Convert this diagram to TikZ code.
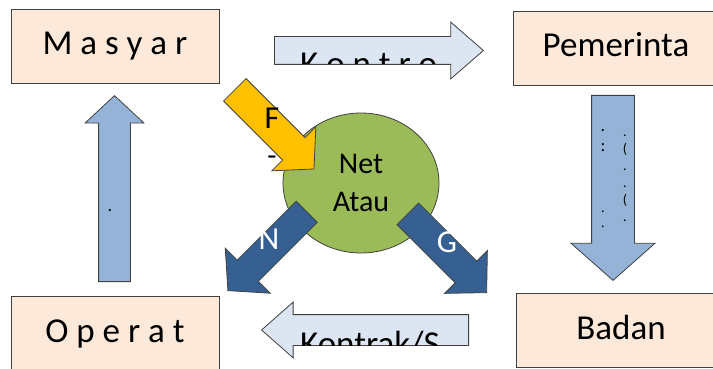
\documentclass[tikz,border=0pt]{standalone}
\usepackage{fontspec}
\setmainfont{Carlito}
\usetikzlibrary{shapes.geometric,shapes.arrows}
\definecolor{boxfill}{HTML}{FDE9D9}
\definecolor{flowfill}{HTML}{DCE6F2}
\definecolor{upfill}{HTML}{95B3D7}
\definecolor{netfill}{HTML}{9BBB59}
\definecolor{ffill}{HTML}{FFC000}
\definecolor{darkfill}{HTML}{376092}
\definecolor{edge}{HTML}{404040}

\begin{document}
\begin{tikzpicture}[x=1pt, y=-1pt,
        every node/.style={inner sep=0pt}
]
\tikzstyle{block}=[draw=edge, line width=0.8pt, fill=boxfill, rectangle, minimum height=74pt, text height=24pt, text depth=6pt, font=\fontsize{35}{42}\selectfont]
\tikzstyle{flow}=[draw=edge, line width=0.8pt, single arrow, single arrow head indent=0pt, inner xsep=0pt, anchor=tail]
\tikzstyle{big}=[font=\fontsize{32}{38}\selectfont]
\tikzstyle{bit}=[font=\fontsize{18}{18}\selectfont]
\useasboundingbox (0,0) rectangle (713,369);

    \node[block, minimum width=208pt] (masy) at (115,46) {M a s y a r};
    \node[block, minimum width=206pt] (pem) at (616,48) {Pemerinta};
    \node[block, minimum width=208pt] (oper) at (115,333) {O p e r a t};
    \node[block, minimum width=210pt] (badan) at (621,330.5) {Badan};

    \node[draw=edge, line width=0.8pt, fill=netfill, ellipse, minimum width=156pt, minimum height=140pt, align=center, font=\fontsize{30}{38}\selectfont] (net) at (361,183) {Net\\Atau};
    \node[font=\fontsize{30}{30}\selectfont] (garis) at (272,161) {-};

    \node[flow, fill=flowfill, minimum height=209pt, inner ysep=13.5pt, single arrow head extend=14.5pt, single arrow tip angle=82] (kontrol) at (274,50.5) {};
    \node[flow, fill=flowfill, rotate=180, minimum height=207pt, inner ysep=15pt, single arrow head extend=12.5pt, single arrow tip angle=83] (kontrak) at (469,330) {};
    \node[flow, fill=upfill, rotate=90, minimum height=186pt, inner ysep=15.5pt, single arrow head extend=13.5pt, single arrow tip angle=94] (naik) at (114.5,282) {};
    \node[flow, fill=upfill, rotate=-90, minimum height=185pt, inner ysep=21pt, single arrow head extend=20.5pt, single arrow tip angle=97] (turun) at (613,95) {};
    \node[flow, fill=ffill, rotate=-45, minimum height=112pt, inner ysep=15.5pt, single arrow head extend=15.25pt, single arrow tip angle=95] (fa) at (234.5,89.5) {};
    \node[flow, fill=darkfill, rotate=-135, minimum height=111.5pt, inner ysep=14.5pt, single arrow head extend=17pt, single arrow tip angle=97] (na) at (307,211.5) {};
    \node[flow, fill=darkfill, rotate=-45, minimum height=111.5pt, inner ysep=14.85pt, single arrow head extend=15pt, single arrow tip angle=92] (ga) at (407.5,213.5) {};

    \node[big] (flab) at (272,118) {F};
    \node[big, text=white] (nlab) at (269,239) {N};
    \node[big, text=white] (glab) at (447,242) {G};

\begin{scope}
    \clip (274,37) rectangle (451,64);
    \node[anchor=base west, font=\fontsize{35}{42}\selectfont] (kontroltxt) at (300,76) {K o n t r o};
\end{scope}
\begin{scope}
    \clip (293,315) rectangle (469,345);
    \node[anchor=base west, font=\fontsize{35}{42}\selectfont] (kontraktxt) at (300,355) {Kontrak/S};
\end{scope}

    \node[bit] (titik) at (110,211) {.};
    \node[bit, align=center, font=\fontsize{18}{20}\selectfont] (kiri1) at (603,141) {.\\:};
    \node[align=center, font=\fontsize{14}{15}\selectfont] (kiri2) at (603,219) {.\\.};
    \node[align=center, font=\fontsize{14}{17}\selectfont] (kanan) at (625,178) {.\\(\\.\\.\\(\\.};

\end{tikzpicture}
\end{document}
